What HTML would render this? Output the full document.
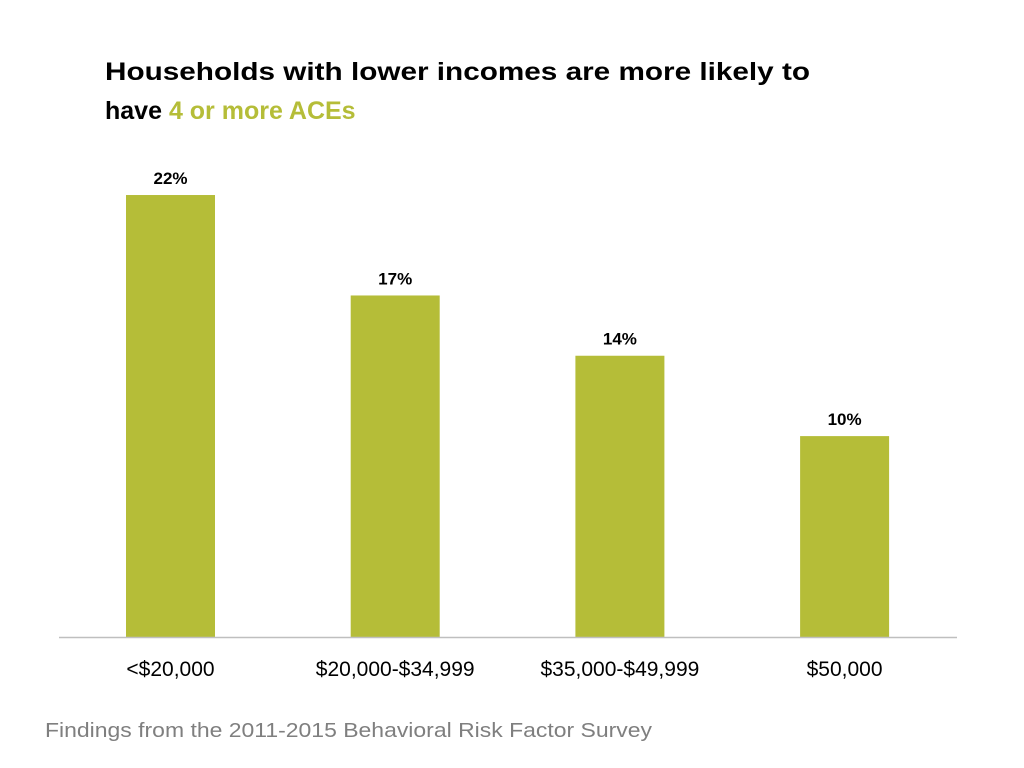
<!DOCTYPE html>
<html><head><meta charset="utf-8"><style>
html,body{margin:0;padding:0;background:#fff;}
svg{display:block;font-family:"Liberation Sans",sans-serif;}
</style></head><body>
<svg width="1024" height="768" viewBox="0 0 1024 768">
<text x="105" y="80" font-size="25" font-weight="bold" fill="#000" textLength="705" lengthAdjust="spacingAndGlyphs">Households with lower incomes are more likely to</text>
<text x="105" y="119" font-size="25" font-weight="bold" fill="#000"><tspan>have </tspan><tspan fill="#b5bd38">4 or more ACEs</tspan></text>
<g id="plot"></g>
<line x1="59" y1="637.5" x2="957" y2="637.5" stroke="#bfbfbf" stroke-width="1.5"/>
<text x="45" y="737" font-size="20" fill="#7f7f7f" textLength="607" lengthAdjust="spacingAndGlyphs">Findings from the 2011-2015 Behavioral Risk Factor Survey</text>
</svg>
<script>
const categories = ["<$20,000", "$20,000-$34,999", "$35,000-$49,999", "$50,000"];
const values = [22, 17, 14, 10];
const valueLabels = ["22%", "17%", "14%", "10%"];

const baseY = 637, pxPerUnit = 20.09;
const firstCenter = 170.5, step = 224.7, barW = 89;
function yScale(v){ return baseY - v * pxPerUnit; }
function xCenter(i){ return firstCenter + i * step; }
const g = document.getElementById('plot');
const NS = "http://www.w3.org/2000/svg";
values.forEach((v, i) => {
  const r = document.createElementNS(NS, 'rect');
  r.setAttribute('x', xCenter(i) - barW/2);
  r.setAttribute('y', yScale(v));
  r.setAttribute('width', barW);
  r.setAttribute('height', baseY - yScale(v));
  r.setAttribute('fill', '#b5bd38');
  
  
  g.appendChild(r);
  const t = document.createElementNS(NS, 'text');
  t.setAttribute('x', xCenter(i));
  t.setAttribute('y', yScale(v) - 11);
  t.setAttribute('text-anchor', 'middle');
  t.setAttribute('font-size', '17');
  t.setAttribute('font-weight', 'bold');
  t.textContent = valueLabels[i];
  
  
  g.appendChild(t);
  const c = document.createElementNS(NS, 'text');
  c.setAttribute('x', xCenter(i));
  c.setAttribute('y', 676);
  c.setAttribute('text-anchor', 'middle');
  c.setAttribute('font-size', '21');
  c.textContent = categories[i];
  
  
  g.appendChild(c);
});
</script>
</body></html>
